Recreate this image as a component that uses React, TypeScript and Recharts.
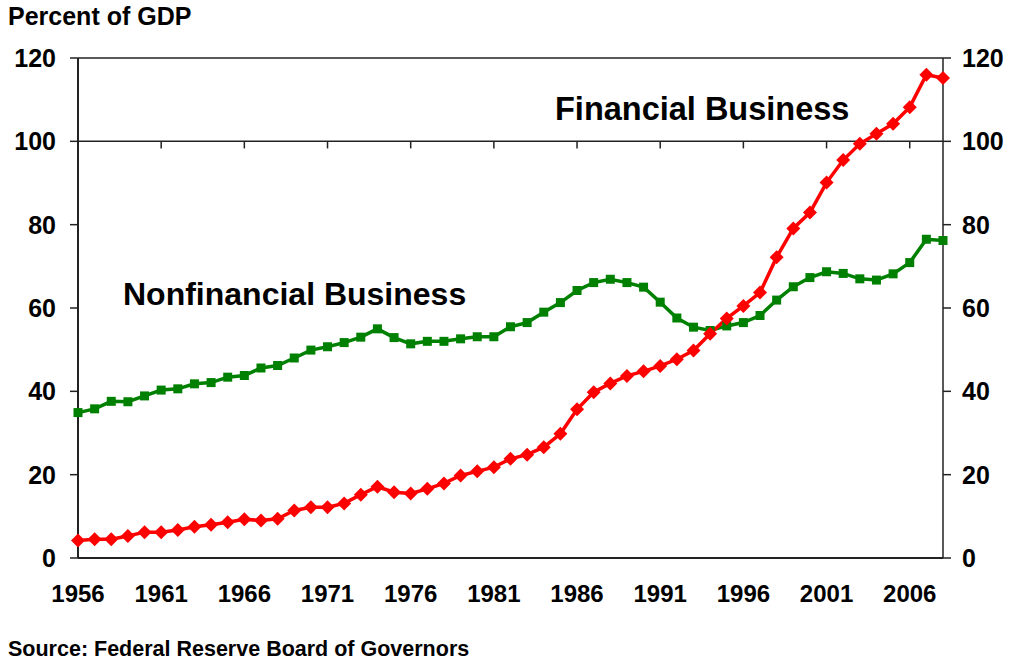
import { LineChart, Line, XAxis, YAxis, ReferenceLine } from "recharts";

const years = [
  1956, 1957, 1958, 1959, 1960, 1961, 1962, 1963, 1964, 1965, 1966, 1967, 1968,
  1969, 1970, 1971, 1972, 1973, 1974, 1975, 1976, 1977, 1978, 1979, 1980, 1981,
  1982, 1983, 1984, 1985, 1986, 1987, 1988, 1989, 1990, 1991, 1992, 1993, 1994,
  1995, 1996, 1997, 1998, 1999, 2000, 2001, 2002, 2003, 2004, 2005, 2006, 2007,
  2008,
];

const financial = [
  4.2, 4.5, 4.5, 5.3, 6.2, 6.2, 6.7, 7.5, 8.0, 8.6, 9.3, 9.0, 9.4, 11.4, 12.2,
  12.2, 13.1, 15.2, 17.1, 15.8, 15.5, 16.6, 17.9, 19.8, 20.8, 21.8, 23.8, 24.8,
  26.6, 29.8, 35.7, 39.8, 41.9, 43.7, 44.8, 46.1, 47.7, 49.8, 53.8, 57.5, 60.5,
  63.7, 72.2, 79.1, 82.9, 90.1, 95.5, 99.4, 101.8, 104.2, 108.2, 116.0, 115.2,
];

const nonfinancial = [
  34.9, 35.8, 37.6, 37.5, 38.9, 40.3, 40.6, 41.8, 42.1, 43.4, 43.8, 45.6, 46.2,
  48.0, 49.9, 50.7, 51.7, 53.0, 55.0, 52.9, 51.4, 52.0, 52.0, 52.6, 53.1, 53.1,
  55.5, 56.5, 59.0, 61.3, 64.2, 66.1, 66.9, 66.1, 65.0, 61.4, 57.6, 55.4, 54.6,
  55.7, 56.5, 58.2, 61.9, 65.1, 67.3, 68.7, 68.3, 67.0, 66.7, 68.2, 70.9, 76.5,
  76.2,
];

const xTicks = [1956, 1961, 1966, 1971, 1976, 1981, 1986, 1991, 1996, 2001, 2006];
const yTicks = [0, 20, 40, 60, 80, 100, 120];

const data = years.map((year, i) => ({
  year,
  financial: financial[i],
  nonfinancial: nonfinancial[i],
}));

const font = "'Liberation Sans', Arial, sans-serif";
const axisColor = "#222";

function Diamond(props: any) {
  const { cx, cy } = props;
  if (cx == null || cy == null) return null;
  const r = 7;
  return (
    <polygon
      points={`${cx},${cy - r} ${cx + r},${cy} ${cx},${cy + r} ${cx - r},${cy}`}
      fill="#ff0000"
    />
  );
}

function Square(props: any) {
  const { cx, cy } = props;
  if (cx == null || cy == null) return null;
  const s = 4.5;
  return <rect x={cx - s} y={cy - s} width={s * 2} height={s * 2} fill="#008000" />;
}

export default function App() {
  const tickStyle = { fill: "#000", fontSize: 24, fontWeight: 700, fontFamily: font };
  const yTickStyle = { ...tickStyle, fontSize: 25 };
  return (
    <div style={{ position: "absolute", left: 0, top: 0, width: 1011, height: 662, background: "#fff", fontFamily: font }}>
      <LineChart
        width={1011}
        height={662}
        data={data}
        margin={{ top: 58, right: 8, bottom: 64, left: 18 }}
      >
        <XAxis
          dataKey="year"
          type="number"
          domain={[1956, 2008]}
          ticks={xTicks}
          interval={0}
          tickLine={false}
          tickSize={0}
          tickMargin={27}
          height={40}
          axisLine={{ stroke: axisColor, strokeWidth: 2 }}
          tick={tickStyle}
        />
        <YAxis
          yAxisId="l"
          domain={[0, 120]}
          ticks={yTicks}
          width={60}
          tickSize={8}
          tickMargin={14}
          axisLine={{ stroke: axisColor, strokeWidth: 2 }}
          tickLine={{ stroke: axisColor, strokeWidth: 1.5 }}
          tick={yTickStyle}
        />
        <YAxis
          yAxisId="r"
          orientation="right"
          domain={[0, 120]}
          ticks={yTicks}
          width={60}
          tickSize={8}
          tickMargin={11}
          axisLine={{ stroke: axisColor, strokeWidth: 1.5 }}
          tickLine={{ stroke: axisColor, strokeWidth: 1.5 }}
          tick={yTickStyle}
        />
        <ReferenceLine yAxisId="l" y={120} stroke={axisColor} strokeWidth={1.5} />
        <ReferenceLine yAxisId="l" y={100} stroke={axisColor} strokeWidth={1.5} />
        {xTicks.slice(1).map((t) => (
          <ReferenceLine
            key={t}
            yAxisId="l"
            segment={[
              { x: t, y: 100 },
              { x: t, y: 98.3 },
            ]}
            stroke={axisColor}
            strokeWidth={1.5}
          />
        ))}
        <Line
          yAxisId="r"
          dataKey="nonfinancial"
          stroke="#008000"
          strokeWidth={3.5}
          dot={<Square />}
          isAnimationActive={false}
        />
        <Line
          yAxisId="l"
          dataKey="financial"
          stroke="#ff0000"
          strokeWidth={3.5}
          dot={<Diamond />}
          isAnimationActive={false}
        />
      </LineChart>
      <svg
        width={1011}
        height={662}
        style={{ position: "absolute", left: 0, top: 0, pointerEvents: "none" }}
      >
        <text x={8} y={25} fontSize={25} fontWeight={700} fontFamily={font} fill="#000">
          Percent of GDP
        </text>
        <text x={123} y={305} fontSize={32} fontWeight={700} fontFamily={font} fill="#000">
          Nonfinancial Business
        </text>
        <text x={555} y={120} fontSize={32.5} fontWeight={700} fontFamily={font} fill="#000">
          Financial Business
        </text>
        <text x={8} y={656} fontSize={21.5} fontWeight={700} fontFamily={font} fill="#000">
          Source: Federal Reserve Board of Governors
        </text>
      </svg>
    </div>
  );
}
